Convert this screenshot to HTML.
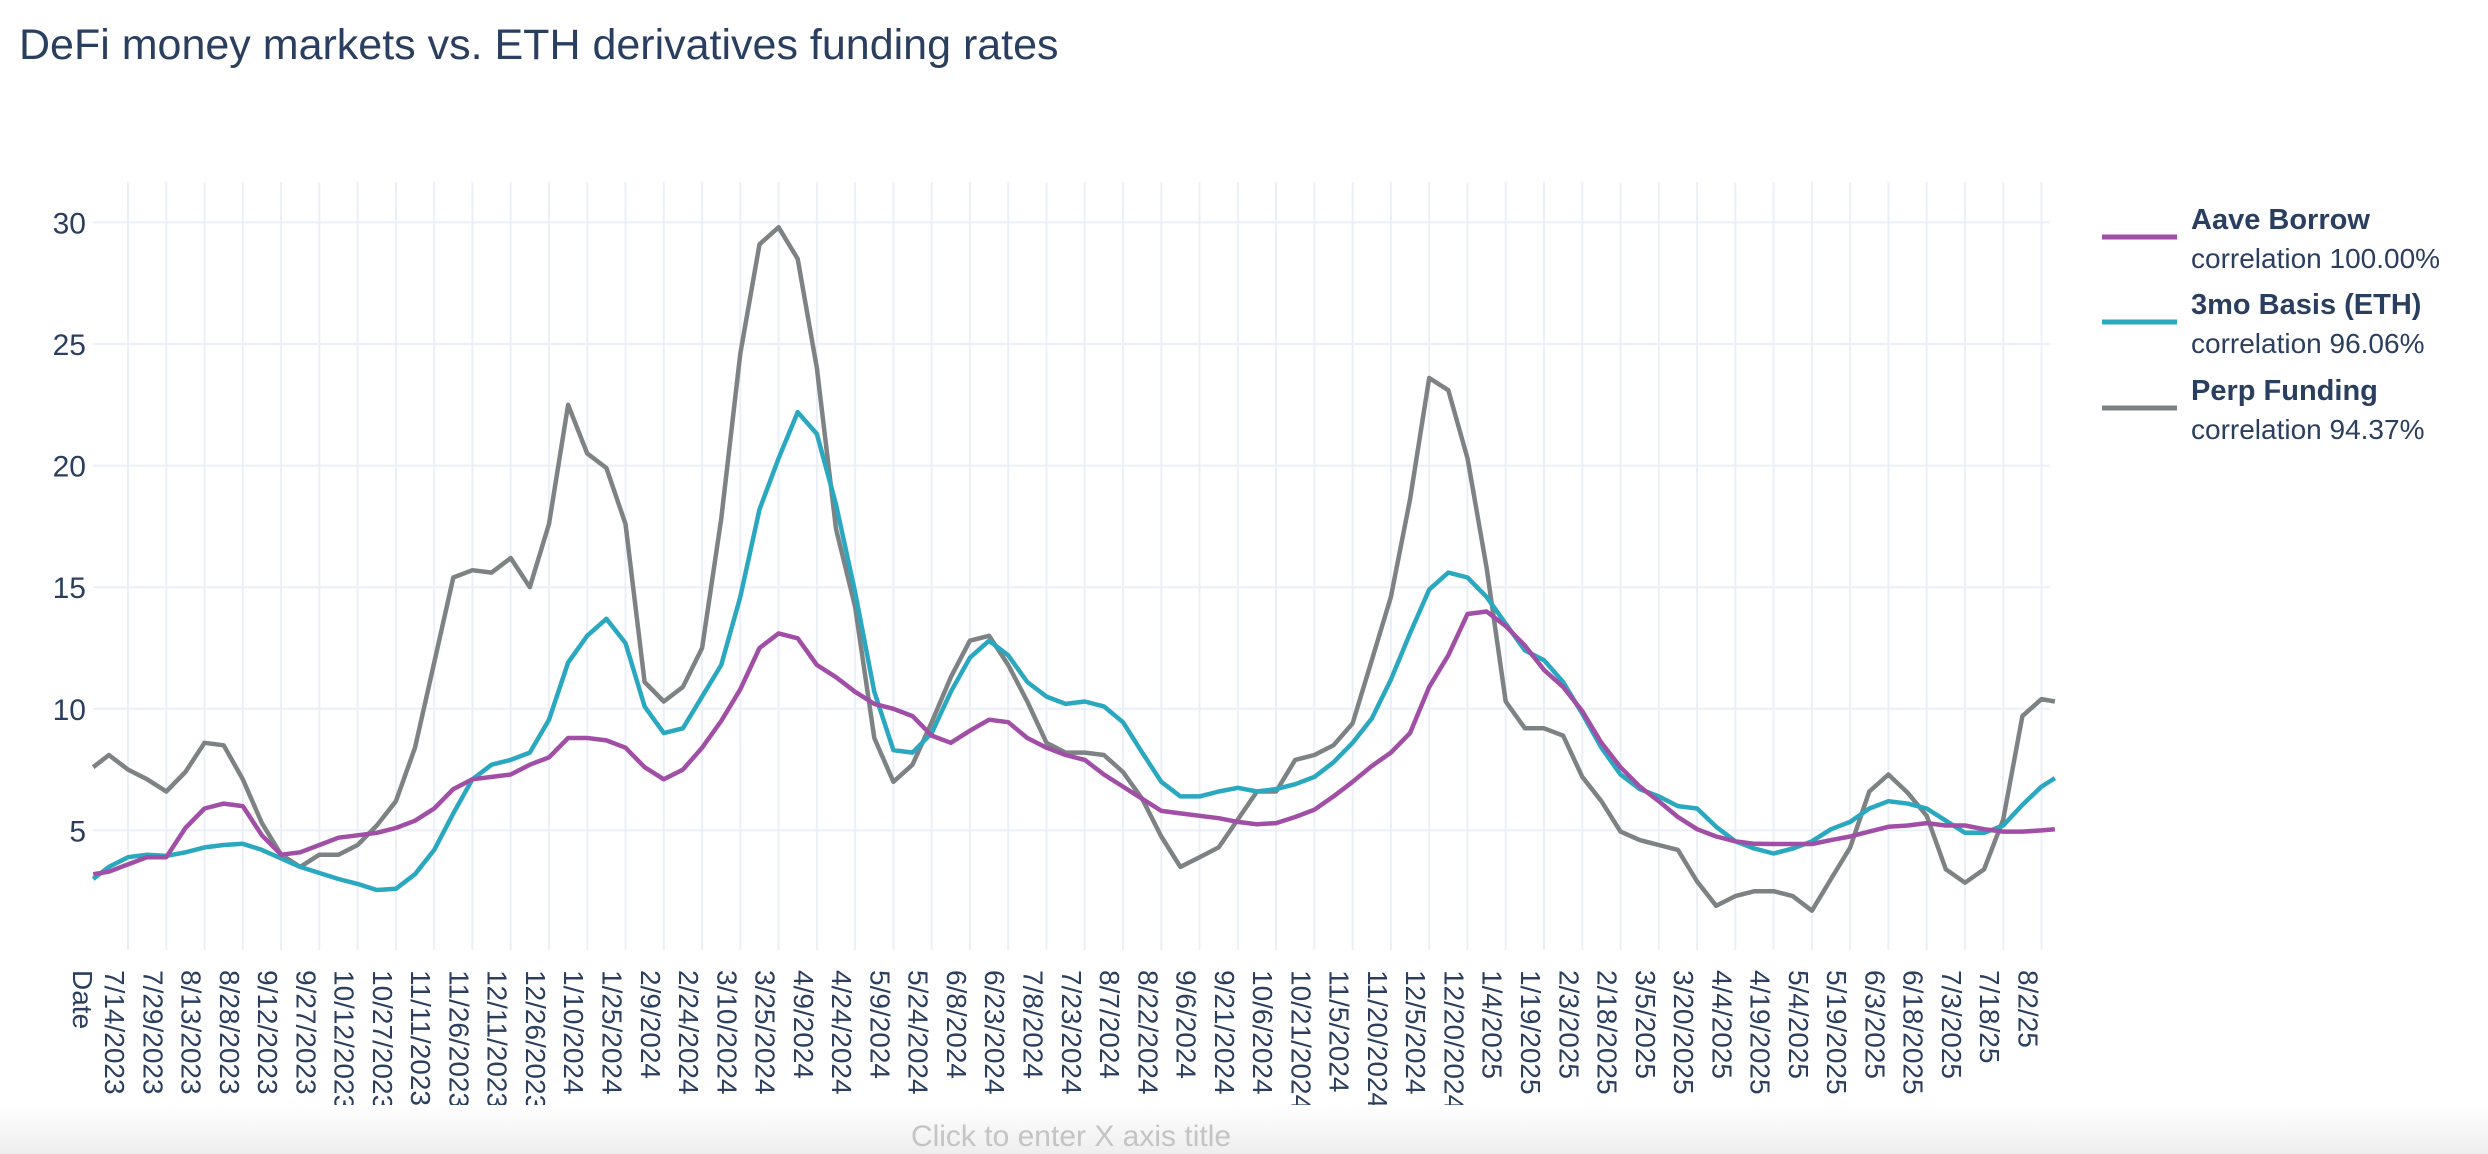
<!DOCTYPE html>
<html><head><meta charset="utf-8"><style>
html,body{margin:0;padding:0;background:#fff;}
body{width:2488px;height:1154px;overflow:hidden;position:relative;font-family:"Liberation Sans",sans-serif;}
svg{position:absolute;left:0;top:0;}
</style></head><body>
<svg id="chart" width="2488" height="1154" viewBox="0 0 2488 1154" xmlns="http://www.w3.org/2000/svg">
  <defs><linearGradient id="bot" x1="0" y1="0" x2="0" y2="1"><stop offset="0" stop-color="#ffffff"/><stop offset="1" stop-color="#eeeeee"/></linearGradient></defs>
  <text x="19" y="59" font-size="43" fill="#2a3f5f" font-family="Liberation Sans, sans-serif">DeFi money markets vs. ETH derivatives funding rates</text>
  <g id="grid"></g>
  <g id="yticks"></g>
  <g id="xticks"></g>
  <g id="series"></g>
  <g id="legend"></g>
  <rect x="0" y="1105" width="2488" height="49" fill="url(#bot)"/>
  <text x="1071" y="1146" font-size="30" fill="#c4c4c4" text-anchor="middle" font-family="Liberation Sans, sans-serif">Click to enter X axis title</text>
</svg>
<script>
// x positions in units of 15-day tick intervals from 7/14/2023
const tickLabels = ["7/14/2023","7/29/2023","8/13/2023","8/28/2023","9/12/2023","9/27/2023","10/12/2023","10/27/2023","11/11/2023","11/26/2023","12/11/2023","12/26/2023","1/10/2024","1/25/2024","2/9/2024","2/24/2024","3/10/2024","3/25/2024","4/9/2024","4/24/2024","5/9/2024","5/24/2024","6/8/2024","6/23/2024","7/8/2024","7/23/2024","8/7/2024","8/22/2024","9/6/2024","9/21/2024","10/6/2024","10/21/2024","11/5/2024","11/20/2024","12/5/2024","12/20/2024","1/4/2025","1/19/2025","2/3/2025","2/18/2025","3/5/2025","3/20/2025","4/4/2025","4/19/2025","5/4/2025","5/19/2025","6/3/2025","6/18/2025","7/3/2025","7/18/25","8/2/25"];
const yTicks = [5,10,15,20,25,30];
const aaveBorrow = [3.2,3.3,3.6,3.9,3.9,5.1,5.9,6.1,6.0,4.8,4.0,4.1,4.4,4.7,4.8,4.9,5.1,5.4,5.9,6.7,7.1,7.2,7.3,7.7,8.0,8.8,8.8,8.7,8.4,7.6,7.1,7.5,8.4,9.5,10.8,12.5,13.1,12.9,11.8,11.3,10.7,10.2,10.0,9.7,8.9,8.6,9.1,9.55,9.45,8.8,8.4,8.1,7.9,7.3,6.8,6.3,5.8,5.7,5.6,5.5,5.35,5.25,5.3,5.55,5.85,6.4,7.0,7.65,8.2,9.0,10.9,12.2,13.9,14.0,13.4,12.6,11.6,10.9,9.9,8.6,7.6,6.8,6.2,5.55,5.05,4.75,4.55,4.45,4.44,4.44,4.44,4.6,4.75,4.95,5.15,5.2,5.3,5.2,5.2,5.05,4.95,4.95,5.0,5.05];
const basis3mo = [3.0,3.5,3.9,4.0,3.95,4.1,4.3,4.4,4.45,4.2,3.85,3.5,3.25,3.0,2.8,2.55,2.6,3.2,4.2,5.7,7.1,7.7,7.9,8.2,9.55,11.9,13.0,13.7,12.7,10.1,9.0,9.2,10.5,11.8,14.6,18.2,20.3,22.2,21.3,18.4,14.8,10.7,8.3,8.2,9.0,10.7,12.1,12.8,12.2,11.1,10.5,10.2,10.3,10.1,9.45,8.2,7.0,6.4,6.4,6.6,6.75,6.6,6.7,6.9,7.2,7.8,8.6,9.6,11.2,13.1,14.9,15.6,15.4,14.6,13.5,12.4,12.0,11.1,9.8,8.4,7.3,6.7,6.4,6.0,5.9,5.15,4.55,4.25,4.05,4.25,4.55,5.05,5.35,5.9,6.2,6.1,5.9,5.4,4.9,4.9,5.2,6.05,6.8,7.15];
const perpFunding = [7.6,8.1,7.5,7.1,6.6,7.4,8.6,8.5,7.1,5.3,4.0,3.5,4.0,4.0,4.4,5.2,6.2,8.4,11.9,15.4,15.7,15.6,16.2,15.0,17.6,22.5,20.5,19.9,17.6,11.1,10.3,10.9,12.5,17.8,24.6,29.1,29.8,28.5,24.0,17.4,14.2,8.8,7.0,7.7,9.45,11.3,12.8,13.0,11.8,10.3,8.6,8.2,8.2,8.1,7.4,6.3,4.75,3.5,3.9,4.3,5.45,6.6,6.6,7.9,8.1,8.5,9.4,12.0,14.6,18.6,23.6,23.1,20.3,15.8,10.3,9.2,9.2,8.9,7.2,6.2,4.95,4.6,4.4,4.2,2.9,1.9,2.3,2.5,2.5,2.3,1.7,3.0,4.3,6.6,7.3,6.55,5.6,3.4,2.85,3.4,5.45,9.7,10.4,10.3];
const seriesNames = ["Aave Borrow","3mo Basis (ETH)","Perp Funding"];
const correlations = ["correlation 100.00%","correlation 96.06%","correlation 94.37%"];

const NS="http://www.w3.org/2000/svg";
const X0=128, DX=38.27, Y0=952, DY=24.32, PL=93, PR=2050, PT=182, PB=950;
const xs = v => X0 + DX*v;
const ys = v => Y0 - DY*v;
const kArr=[-0.91,-0.5];
for(let i=0;i<=100;i++) kArr.push(i*0.5);
kArr.push(50.35);

function mk(tag, attrs, parent){const e=document.createElementNS(NS,tag);for(const k in attrs)e.setAttribute(k,attrs[k]);parent.appendChild(e);return e;}
const grid=document.getElementById('grid');
tickLabels.forEach((t,i)=>{
  const l=mk('line',{x1:xs(i),x2:xs(i),y1:PT,y2:PB,stroke:'#ebf0f8','stroke-width':2},grid);
  
  
});
yTicks.forEach(v=>{
  const l=mk('line',{x1:PL,x2:PR,y1:ys(v),y2:ys(v),stroke:'#ebf0f8','stroke-width':2},grid);
  
  
});
const yt=document.getElementById('yticks');
yTicks.forEach(v=>{
  const t=mk('text',{x:86,y:ys(v)+11,'font-size':30,fill:'#2a3f5f','text-anchor':'end','font-family':'Liberation Sans, sans-serif'},yt);
  t.textContent=v;
  
  
});
const xt=document.getElementById('xticks');
const dl=mk('text',{transform:'translate(73,970) rotate(90)','font-size':28,fill:'#2a3f5f','font-family':'Liberation Sans, sans-serif'},xt);
dl.textContent='Date';


tickLabels.forEach((s,i)=>{
  const t=mk('text',{transform:`translate(${xs(i)-23},970) rotate(90)`,'font-size':28,fill:'#2a3f5f','font-family':'Liberation Sans, sans-serif'},xt);
  t.textContent=s;
  
  
});
const colors=['#a14fa6','#2aa8c0','#7d8384'];
const data=[aaveBorrow,basis3mo,perpFunding];
const sg=document.getElementById('series');
[2,1,0].forEach(si=>{
  const arr=data[si];
  const pts=arr.map((v,i)=>xs(kArr[i]).toFixed(1)+','+ys(v).toFixed(1)).join(' ');
  const p=mk('polyline',{points:pts,fill:'none',stroke:colors[si],'stroke-width':4.5,'stroke-linejoin':'round'},sg);
  
  
});
const lg=document.getElementById('legend');
const legY=[237,322,408];
seriesNames.forEach((n,i)=>{
  const g=mk('g',{},lg);
  
  
  mk('line',{x1:2102,x2:2177,y1:legY[i],y2:legY[i],stroke:colors[i],'stroke-width':5},g);
  const a=mk('text',{x:2191,y:legY[i]-8,'font-size':29,'font-weight':'bold',fill:'#2a3f5f','font-family':'Liberation Sans, sans-serif'},g);
  a.textContent=n;
  
  
  const b=mk('text',{x:2191,y:legY[i]+31,'font-size':28,fill:'#2a3f5f','font-family':'Liberation Sans, sans-serif'},g);
  b.textContent=correlations[i];
  
  
});
</script>
</body></html>
